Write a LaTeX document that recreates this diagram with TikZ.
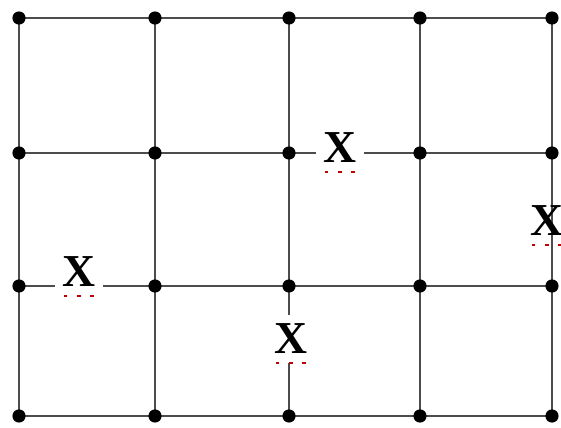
\documentclass[tikz,border=0pt]{standalone}
\usepackage{fontspec}
\setmainfont{Liberation Serif}
\usetikzlibrary{positioning}
\tikzset{
  gridpt/.style={circle, fill=black, inner sep=0pt, minimum size=7.5pt},
  gridline/.style={line width=1.4pt, black!70},
  xmark/.style={fill=white, inner xsep=4pt, inner ysep=5pt, font=\fontsize{26}{26}\selectfont\bfseries},
  squiggle/.style={red!75!black, line width=1.5pt, dash pattern=on 2pt off 5.5pt}
}

\begin{document}
\begin{tikzpicture}[x=0.02cm, y=-0.02cm]
\useasboundingbox (0,0) rectangle (561,427);
% grid corners
\foreach \c/\x in {1/19,2/155,3/289,4/420,5/552}
  \foreach \r/\y in {1/18,2/153,3/286,4/416}
    \coordinate (g\c\r) at (\x,\y);
% lines of the grid
\foreach \r in {1,...,4}
  \draw[gridline] (g1\r) -- (g5\r);
\foreach \c in {1,...,5}
  \draw[gridline] (g\c1) -- (g\c4);
% dots
\foreach \c in {1,...,5}
  \foreach \r in {1,...,4}
    \node[gridpt] (d\c\r) at (g\c\r) {};
% the four X's
\node[xmark] (m1) at (340,148) {X};
\node[xmark] (m2) at (79,272) {X};
\node[xmark] (m3) at (291,339) {X};
\node[xmark, fill=none] (m4) at (547,221) {X};
\foreach \m in {m1,m2,m3,m4}
  \draw[squiggle] ([xshift=5pt,yshift=0pt]\m.south west) -- ([xshift=-4pt,yshift=0pt]\m.south east);
\end{tikzpicture}
\end{document}
